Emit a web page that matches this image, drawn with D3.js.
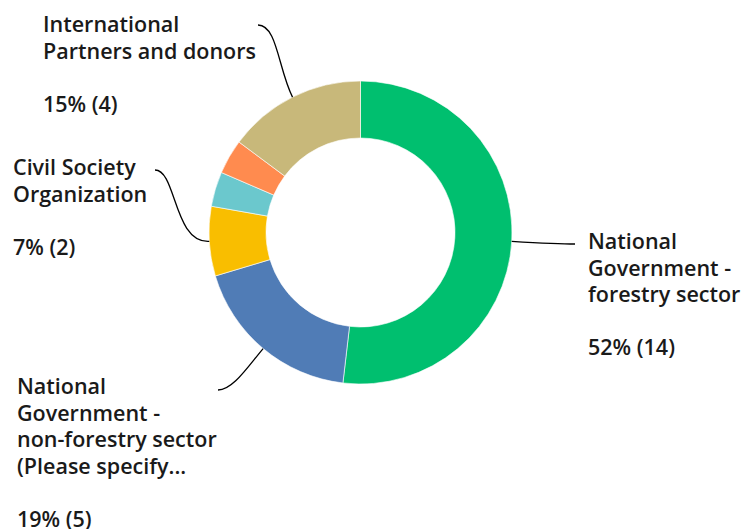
<!DOCTYPE html>
<html>
<head>
<meta charset="utf-8">
<script src="https://cdn.jsdelivr.net/npm/d3@7/dist/d3.min.js"></script>
<style>
  html, body { margin: 0; padding: 0; background: #fff; }
  svg { display: block; }
  text { font-family: "Open Sans", "Lato", sans-serif; font-weight: 600; fill: #1a1a1a; }
</style>
</head>
<body>
<svg id="chart" width="744" height="529"></svg>
<script>
// ---- data ----
const categories = [
  "National Government - forestry sector",
  "National Government - non-forestry sector (Please specify...",
  "Civil Society Organization",
  "Other 1",
  "Other 2",
  "International Partners and donors"
];
const counts = [14, 5, 2, 1, 1, 4];
const percents = ["52%", "19%", "7%", "4%", "4%", "15%"];
const labelLines = [
  ["National", "Government -", "forestry sector"],
  ["National", "Government -", "non-forestry sector", "(Please specify..."],
  ["Civil Society", "Organization"],
  null,
  null,
  ["International", "Partners and donors"]
];
const colors = ["#00BF6F", "#507CB6", "#F9BE00", "#6BC8CD", "#FF8B4F", "#C8B87A"];

// ---- layout ----
const cx = 360.5, cy = 232.5, rOuter = 151.5, rInner = 94.5;
const fontSize = 21.5, lineH = 26.5;
// label placement: text x, first baseline y, leader end point
const labelLayout = {
  0: { x: 588, y: 249, end: [575, 244] },
  1: { x: 17, y: 394, end: [218, 390] },
  2: { x: 13, y: 175, end: [155, 170] },
  5: { x: 43, y: 32, end: [258, 25] }
};

const svg = d3.select("#chart");
const g = svg.append("g").attr("transform", `translate(${cx},${cy})`);

const pie = d3.pie().sort(null).value(d => d);
const arcs = pie(counts);
const arc = d3.arc().innerRadius(rInner).outerRadius(rOuter);

g.selectAll("path.slice")
  .data(arcs)
  .enter().append("path")
  .attr("class", "slice")
  .attr("d", arc)
  .attr("fill", (d, i) => colors[i])
  .attr("stroke", "#fff")
  .attr("stroke-width", 0.6);

// leader lines
arcs.forEach((a, i) => {
  const L = labelLayout[i];
  if (!L) return;
  const mid = (a.startAngle + a.endAngle) / 2;
  const p0 = [cx + rOuter * Math.sin(mid), cy - rOuter * Math.cos(mid)];
  const p3 = L.end;
  const dist = Math.hypot(p3[0] - p0[0], p3[1] - p0[1]);
  const k = dist * 0.4;
  const p1 = [p0[0] + k * Math.sin(mid), p0[1] - k * Math.cos(mid)];
  const dir = (L.x < p3[0]) ? 1 : -1; // hook points away from text
  const p2 = [p3[0] + dir * k * 0.6, p3[1]];
  const path = d3.path();
  path.moveTo(p0[0], p0[1]);
  path.bezierCurveTo(p1[0], p1[1], p2[0], p2[1], p3[0], p3[1]);
  svg.append("path")
    .attr("d", path.toString())
    .attr("fill", "none")
    .attr("stroke", "#000")
    .attr("stroke-width", 1.3);
});

// labels
arcs.forEach((a, i) => {
  const L = labelLayout[i];
  if (!L) return;
  const t = svg.append("text")
    .attr("x", L.x).attr("y", L.y)
    .style("font-size", fontSize + "px");
  const lines = labelLines[i].concat(["", percents[i] + " (" + counts[i] + ")"]);
  lines.forEach((ln, j) => {
    t.append("tspan")
      .attr("x", L.x)
      .attr("y", L.y + j * lineH)
      .text(ln);
  });
});
</script>
</body>
</html>
